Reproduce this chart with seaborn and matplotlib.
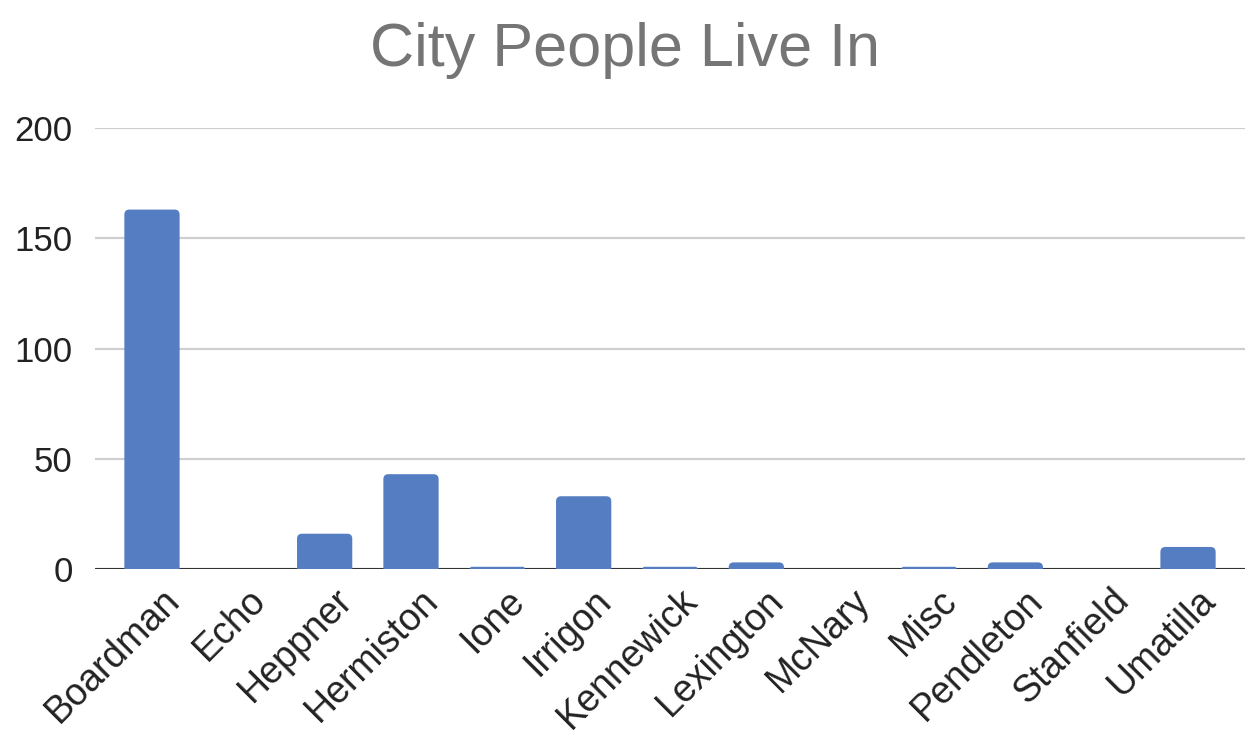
import matplotlib
matplotlib.use("Agg")
import matplotlib.pyplot as plt
import matplotlib.transforms as mtransforms
from matplotlib.patches import FancyBboxPatch
import seaborn as sns
import pandas as pd

# City counts
cities = ["Boardman", "Echo", "Heppner", "Hermiston", "Ione", "Irrigon",
          "Kennewick", "Lexington", "McNary", "Misc", "Pendleton",
          "Stanfield", "Umatilla"]
counts = [163, 0, 16, 43, 1, 33, 1, 3, 0, 1, 3, 0, 10]
y_ticks = [0, 50, 100, 150, 200]

df = pd.DataFrame({"city": cities, "count": counts})

sns.set_theme(style="white")
plt.rcParams["font.family"] = ["Liberation Sans", "DejaVu Sans"]

BAR_COLOR = "#557ec2"

fig = plt.figure(figsize=(12.49, 7.41), dpi=100)
ax = fig.add_axes([95 / 1249, 1 - 569 / 741, 1150 / 1249, 441 / 741])

sns.barplot(data=df, x="city", y="count", color=BAR_COLOR, saturation=1,
            width=0.64, linewidth=0, ax=ax, zorder=3)

ax.set_ylim(0, 200)
ax.set_xlim(-0.66, 12.66)
ax.set_yticks(y_ticks)

# Rounded top corners: swap each bar for a rounded box that starts just
# below the baseline so only the top corners show.
fig.canvas.draw()
px_per_x = ax.transData.transform((1, 0))[0] - ax.transData.transform((0, 0))[0]
px_per_y = ax.transData.transform((0, 0))[1] - ax.transData.transform((0, 1))[1]
px_per_y = abs(px_per_y)
aspect = px_per_x / px_per_y
for bar in list(ax.patches):
    x, w, h = bar.get_x(), bar.get_width(), bar.get_height()
    bar.remove()
    if h <= 0:
        continue
    r_px = min(5.0, h * px_per_y)
    r_y = r_px / px_per_y
    box = FancyBboxPatch((x, -r_y), w, h + r_y,
                         boxstyle=f"round,pad=0,rounding_size={r_px / px_per_x}",
                         mutation_aspect=aspect, facecolor=BAR_COLOR,
                         edgecolor="none", linewidth=0, zorder=3)
    ax.add_patch(box)

ax.yaxis.grid(True, color="#cfcfcf", linewidth=1.6, zorder=0)
ax.set_axisbelow(True)
ax.axhline(0, color="#333333", linewidth=2.2, zorder=2)
for s in ax.spines.values():
    s.set_visible(False)
ax.set_xlabel("")
ax.set_ylabel("")
ax.tick_params(axis="both", length=0)
ax.tick_params(axis="y", labelsize=25, pad=16, labelcolor="#222222")
ax.tick_params(axis="x", labelsize=27, labelcolor="#222222")

offset = mtransforms.ScaledTranslation(22 / 100, -21 / 100, fig.dpi_scale_trans)
for lab in ax.get_xticklabels():
    lab.set_rotation(45)
    lab.set_ha("right")
    lab.set_va("center")
    lab.set_rotation_mode("anchor")
    lab.set_transform(lab.get_transform() + offset)

fig.text(0.5, 1 - 66 / 741, "City People Live In", fontsize=44,
         color="#757575", ha="center", va="baseline")

fig.savefig("out.png", dpi=100, facecolor="white")
